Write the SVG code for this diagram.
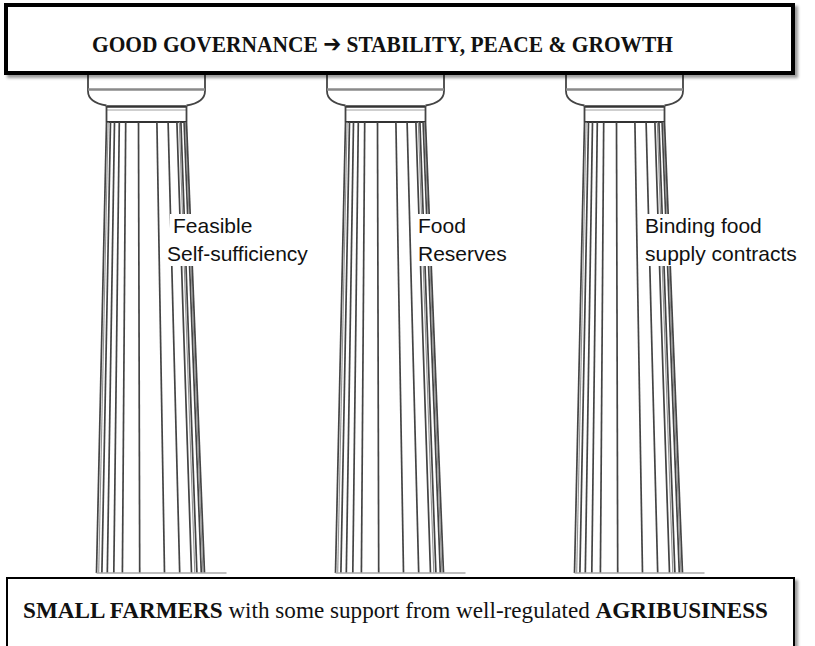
<svg xmlns="http://www.w3.org/2000/svg" xmlns:xlink="http://www.w3.org/1999/xlink" width="815" height="646" viewBox="0 0 815 646">
  <style>
    .box { fill: #fff; stroke: #000; }
    .serif { font-family: "Liberation Serif", "DejaVu Serif", "DejaVu Sans", serif; fill: #111; }
    .label { font-family: "Liberation Sans", "DejaVu Sans", sans-serif; font-size: 21px; fill: #111; }
    .flute { stroke: #444; stroke-width: 1.7; fill: none; }
    .flute-lt { stroke: #909090; stroke-width: 1.1; fill: none; }
    .cap { stroke: #444; stroke-width: 1.8; fill: none; }
    .ground { stroke: #a8a8a8; stroke-width: 1.5; }
    .mask { fill: #fff; }
  </style>
  <defs>
    <filter id="shadow" x="-5%" y="-10%" width="110%" height="130%">
      <feDropShadow dx="3" dy="3" stdDeviation="1.6" flood-color="#000" flood-opacity="0.4"/>
    </filter>
    <!-- one Doric pillar, centred on x = 0 -->
    <g id="pillar">
      <!-- capital -->
      <path class="cap" d="M -58.5 75 V 91 C -58.5 100 -49 104 -40 105.5"/>
      <path class="cap" d="M 58.5 75 V 91 C 58.5 100 49 104 40 105.5"/>
      <line x1="-58.5" y1="89.5" x2="58.5" y2="89.5" stroke="#8a8a8a" stroke-width="2.5"/>
      <line x1="-40" y1="106.5" x2="40" y2="106.5" stroke="#333" stroke-width="2.5"/>
      <line x1="-40" y1="110" x2="40" y2="110" stroke="#a0a0a0" stroke-width="1"/>
      <line class="cap" x1="-40" y1="106" x2="-40" y2="122"/>
      <line class="cap" x1="40" y1="106" x2="40" y2="122"/>
      <line x1="-40" y1="122" x2="40" y2="122" stroke="#333" stroke-width="2"/>
      <!-- fluted shaft -->
      <line class="flute" x1="-40" y1="122" x2="-50" y2="573"/>
      <line class="flute-lt" x1="-38.4" y1="122" x2="-47.8" y2="573"/>
      <line class="flute" x1="-36" y1="122" x2="-44.6" y2="573"/>
      <line class="flute" x1="-32" y1="122" x2="-39.2" y2="573"/>
      <line class="flute" x1="-27.2" y1="122" x2="-32.7" y2="573"/>
      <line class="flute" x1="-20.8" y1="122" x2="-24.1" y2="573"/>
      <line class="flute" x1="-8" y1="122" x2="-6.8" y2="573"/>
      <line class="flute" x1="10.4" y1="122" x2="18" y2="573"/>
      <line class="flute" x1="21.6" y1="122" x2="33.2" y2="573"/>
      <line class="flute" x1="30.4" y1="122" x2="45" y2="573"/>
      <line class="flute-lt" x1="32.8" y1="122" x2="48.3" y2="573"/>
      <line class="flute" x1="34.4" y1="122" x2="50.4" y2="573"/>
      <line class="flute" x1="37.6" y1="122" x2="54.8" y2="573"/>
      <line class="flute-lt" x1="38.8" y1="122" x2="56.4" y2="573"/>
      <line class="flute" x1="40" y1="122" x2="58" y2="573"/>
      <line class="ground" x1="-50" y1="573" x2="80" y2="573"/>
    </g>
  </defs>

  <rect width="815" height="646" fill="#fff"/>

  <!-- the three pillars -->
  <g id="pillar-1"><use xlink:href="#pillar" href="#pillar" x="146.5" y="0"/></g>
  <g id="pillar-2"><use xlink:href="#pillar" href="#pillar" x="385.5" y="0"/></g>
  <g id="pillar-3"><use xlink:href="#pillar" href="#pillar" x="624.5" y="0"/></g>

  <!-- pillar labels on white backing -->
  <g id="label-1">
    <rect class="mask" x="170" y="214" width="86" height="25"/>
    <rect class="mask" x="164" y="239" width="158" height="27"/>
    <text class="label" x="173" y="233">Feasible</text>
    <text class="label" x="167" y="261">Self-sufficiency</text>
  </g>
  <g id="label-2">
    <rect class="mask" x="415" y="214" width="56" height="25"/>
    <rect class="mask" x="415" y="239" width="96" height="27"/>
    <text class="label" x="418" y="233">Food</text>
    <text class="label" x="418" y="261">Reserves</text>
  </g>
  <g id="label-3">
    <rect class="mask" x="642" y="214" width="134" height="25"/>
    <rect class="mask" x="642" y="239" width="170" height="27"/>
    <text class="label" x="645" y="233">Binding food</text>
    <text class="label" x="645" y="261">supply contracts</text>
  </g>

  <!-- roof beam -->
  <g id="roof">
    <rect class="box" x="6" y="5" width="787" height="68" stroke-width="4" filter="url(#shadow)"/>
    <text class="serif" x="92" y="52" font-size="24" font-weight="bold" textLength="581" lengthAdjust="spacingAndGlyphs">GOOD GOVERNANCE ➔ STABILITY, PEACE &amp; GROWTH</text>
  </g>

  <!-- foundation -->
  <g id="foundation">
    <rect class="box" x="7" y="578" width="787" height="90" stroke-width="2" filter="url(#shadow)"/>
    <text class="serif" x="23" y="618" font-size="22.5" textLength="745" lengthAdjust="spacingAndGlyphs"><tspan font-weight="bold">SMALL FARMERS</tspan> with some support from well-regulated <tspan font-weight="bold">AGRIBUSINESS</tspan></text>
  </g>
</svg>
